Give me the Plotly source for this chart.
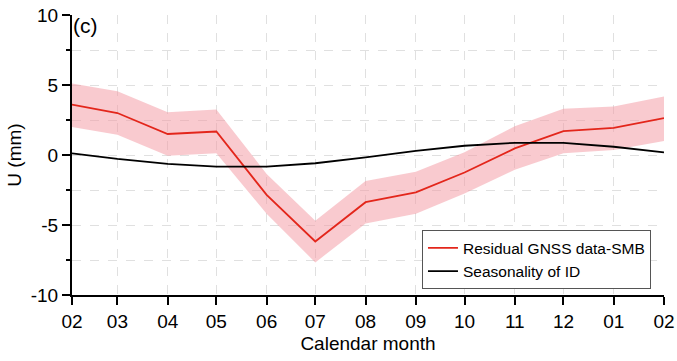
import plotly.graph_objects as go

# Monthly epochs (first day of each month) and their axis labels
months = ["2021-02-01", "2021-03-01", "2021-04-01", "2021-05-01", "2021-06-01",
          "2021-07-01", "2021-08-01", "2021-09-01", "2021-10-01", "2021-11-01",
          "2021-12-01", "2022-01-01", "2022-02-01"]
month_labels = ["02", "03", "04", "05", "06", "07", "08", "09", "10", "11", "12", "01", "02"]

# Y tick positions and labels (plain hyphen minus)
y_ticks = [-10, -5, 0, 5, 10]
y_tick_labels = ["-10", "-5", "0", "5", "10"]

# Residual GNSS minus SMB vertical displacement (mm) with its uncertainty envelope
residual = [3.6, 3.0, 1.5, 1.68, -2.85, -6.18, -3.37, -2.67, -1.25, 0.47, 1.70, 1.93, 2.64]
residual_upper = [5.1, 4.55, 3.05, 3.25, -1.35, -4.7, -1.85, -1.2, 0.2, 2.05, 3.3, 3.47, 4.18]
residual_lower = [2.0, 1.45, -0.05, 0.12, -4.2, -7.67, -4.9, -4.2, -2.75, -1.06, 0.12, 0.35, 1.0]

# Seasonal signal of ice discharge (mm)
seasonality_id = [0.12, -0.28, -0.64, -0.83, -0.83, -0.59, -0.17, 0.3, 0.66, 0.87, 0.87, 0.59, 0.19]

FONT = "Liberation Sans, Arial, sans-serif"
RED = "#e3261b"
BAND = "rgba(243,150,160,0.5)"
GRID = "#e0e0e0"

fig = go.Figure()

fig.add_trace(go.Scatter(x=months, y=residual_upper, mode="lines",
                         line=dict(width=0, color=BAND), showlegend=False,
                         hoverinfo="skip"))
fig.add_trace(go.Scatter(x=months, y=residual_lower, mode="lines",
                         line=dict(width=0, color=BAND), fill="tonexty",
                         fillcolor=BAND, showlegend=False, hoverinfo="skip"))
fig.add_trace(go.Scatter(x=months, y=residual, mode="lines",
                         line=dict(color=RED, width=1.8),
                         name="Residual GNSS data-SMB"))
fig.add_trace(go.Scatter(x=months, y=seasonality_id, mode="lines",
                         line=dict(color="black", width=1.8),
                         name="Seasonality of ID"))

x_range = [months[0], months[-1]]
y_range = [-10, 10]

fig.update_layout(
    width=677, height=361,
    margin=dict(l=72, r=13, t=15, b=66),
    paper_bgcolor="white", plot_bgcolor="white",
    font=dict(family=FONT, size=18, color="black"),
    xaxis=dict(
        type="date", range=x_range, automargin=False,
        tickvals=months, ticktext=month_labels,
        ticks="outside", ticklen=8, tickwidth=1.5, tickcolor="black",
        showline=True, linecolor="black", linewidth=2,
        showgrid=True, gridcolor=GRID, griddash="dash", gridwidth=1,
        zeroline=False,
        title=dict(text="Calendar month", standoff=6, font=dict(size=19)),
        tickfont=dict(size=19),
    ),
    yaxis=dict(
        range=y_range, automargin=False,
        tickmode="array", tickvals=y_ticks, ticktext=y_tick_labels,
        ticks="outside", ticklen=8, tickwidth=1.5, tickcolor="black",
        showline=True, linecolor="black", linewidth=2,
        showgrid=True, gridcolor=GRID, griddash="dash", gridwidth=1,
        zeroline=False,
        minor=dict(tickmode="linear", tick0=0, dtick=2.5, ticks="outside",
                   ticklen=4, tickwidth=1.5, tickcolor="black", showgrid=True,
                   gridcolor=GRID, griddash="dash", gridwidth=1),
        title=dict(text="U (mm)", standoff=4, font=dict(size=19)),
        tickfont=dict(size=19),
    ),
    # Mirrored frame: inward ticks on the top and right edges
    xaxis2=dict(
        type="date", range=x_range, overlaying="x", side="top", anchor="y",
        automargin=False,
        tickvals=months, ticks="inside", ticklen=4, tickwidth=1.5,
        tickcolor="black", showticklabels=False,
        showline=True, linecolor="black", linewidth=2,
        showgrid=False, zeroline=False,
    ),
    yaxis2=dict(
        range=y_range, overlaying="y", side="right", anchor="x",
        automargin=False,
        tickmode="linear", dtick=2.5, tick0=0, ticks="inside", ticklen=4,
        tickwidth=1.5, tickcolor="black", showticklabels=False,
        showline=True, linecolor="black", linewidth=2,
        showgrid=False, zeroline=False,
    ),
    legend=dict(
        x=0.978, y=0.02, xanchor="right", yanchor="bottom",
        bgcolor="white", bordercolor="#555555", borderwidth=1,
        font=dict(size=15.5), traceorder="normal", tracegroupgap=0,
    ),
    annotations=[dict(
        text="(c)", xref="paper", yref="paper", x=0.0, y=1.0,
        xanchor="left", yanchor="top", showarrow=False,
        font=dict(size=21), xshift=-1, yshift=3,
    )],
    showlegend=True,
)

fig.write_html("out.html")
